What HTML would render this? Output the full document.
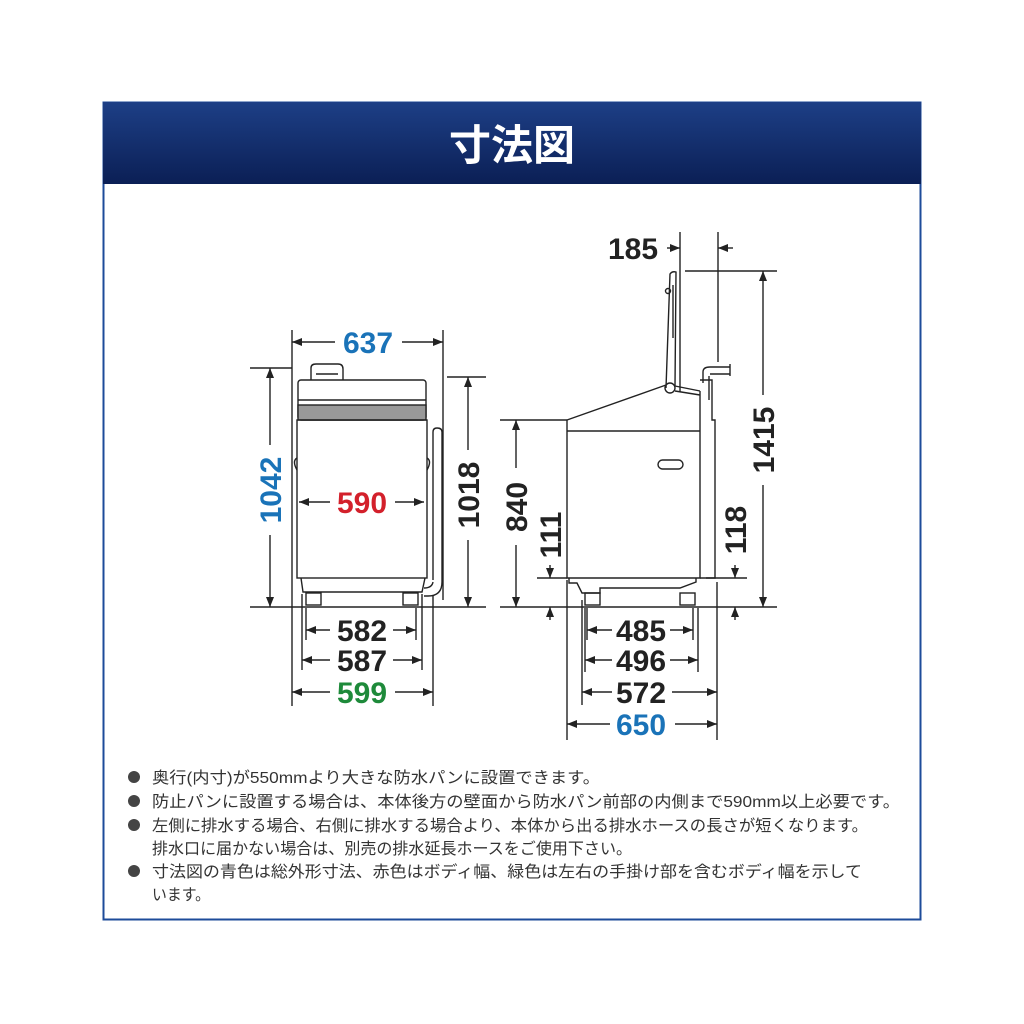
<!DOCTYPE html>
<html><head><meta charset="utf-8"><style>
html,body{margin:0;padding:0;background:#fff;}
svg{display:block;}
</style></head><body>
<svg width="1024" height="1024" viewBox="0 0 1024 1024" xmlns="http://www.w3.org/2000/svg" font-family="'Liberation Sans','Noto Sans CJK JP',sans-serif">
<defs>
<linearGradient id="hg" x1="0" y1="0" x2="0" y2="1">
<stop offset="0" stop-color="#1d3f86"/><stop offset="1" stop-color="#0b1f55"/>
</linearGradient>
<marker id="a" viewBox="0 0 10 8" refX="10" refY="4" markerWidth="10" markerHeight="8" markerUnits="userSpaceOnUse" orient="auto-start-reverse">
<path d="M0,0 L10,4 L0,8 z" fill="#222"/>
</marker>
</defs>
<rect x="103.5" y="102.5" width="817" height="817" fill="#fff" stroke="#1d4b9a" stroke-width="2"/>
<rect x="103" y="102" width="818" height="82" fill="url(#hg)"/>
<text x="512" y="160" text-anchor="middle" fill="#fff" font-size="42" font-weight="bold">寸法図</text>

<g stroke="#222" stroke-width="1.4" fill="none">
<!-- FRONT VIEW -->
<line x1="292" y1="330" x2="292" y2="706"/>
<line x1="443" y1="330" x2="443" y2="600"/>
<line x1="433" y1="596" x2="433" y2="706"/>
<line x1="250" y1="368" x2="292" y2="368"/>
<line x1="447" y1="377" x2="486" y2="377"/>
<line x1="250" y1="607" x2="486" y2="607"/>
<line x1="306" y1="608" x2="306" y2="640"/>
<line x1="416" y1="608" x2="416" y2="640"/>
<line x1="302" y1="594" x2="302" y2="670"/>
<line x1="422" y1="594" x2="422" y2="670"/>
<!-- body -->
<path d="M311,380 V368 Q311,364 316,364 H338 Q343,364 343,369 V380"/>
<line x1="316" y1="374" x2="338" y2="374"/>
<rect x="298" y="380" width="128" height="40" rx="3"/>
<rect x="298" y="405" width="128" height="15" fill="#999"/>
<line x1="298" y1="400" x2="426" y2="400"/>
<rect x="297" y="420" width="130" height="158"/>
<path d="M301,578 L303,592 H422 L425,578"/>
<rect x="306" y="593" width="15" height="12"/>
<rect x="403" y="593" width="15" height="12"/>
<path d="M433,580 V432 Q433,428 437,428 Q442,428 442,432 V582 Q442,596 428,596 H424"/>
<path d="M433,582 Q432,588 424,588"/>
<path d="M297,458 Q292,461 297,470"/>
<path d="M427,458 Q432,461 427,470"/>
</g>
<g stroke="#222" stroke-width="1.4">
<line x1="292" y1="342" x2="335" y2="342" marker-start="url(#a)"/>
<line x1="402" y1="342" x2="443" y2="342" marker-end="url(#a)"/>
<line x1="270" y1="368" x2="270" y2="445" marker-start="url(#a)"/>
<line x1="270" y1="535" x2="270" y2="607" marker-end="url(#a)"/>
<line x1="468" y1="377" x2="468" y2="450" marker-start="url(#a)"/>
<line x1="468" y1="540" x2="468" y2="607" marker-end="url(#a)"/>
<line x1="299" y1="502" x2="330" y2="502" marker-start="url(#a)"/>
<line x1="395" y1="502" x2="424" y2="502" marker-end="url(#a)"/>
<line x1="306" y1="630" x2="330" y2="630" marker-start="url(#a)"/>
<line x1="393" y1="630" x2="416" y2="630" marker-end="url(#a)"/>
<line x1="302" y1="660" x2="330" y2="660" marker-start="url(#a)"/>
<line x1="393" y1="660" x2="422" y2="660" marker-end="url(#a)"/>
<line x1="292" y1="692" x2="330" y2="692" marker-start="url(#a)"/>
<line x1="395" y1="692" x2="433" y2="692" marker-end="url(#a)"/>
</g>
<g font-weight="bold" font-size="30" text-anchor="middle">
<text x="368" y="353" fill="#1a73b8">637</text>
<text x="362" y="513" fill="#d3202b">590</text>
<text x="362" y="641" fill="#222">582</text>
<text x="362" y="671" fill="#222">587</text>
<text x="362" y="703" fill="#1e8a3a">599</text>
<text transform="translate(281,490) rotate(-90)" fill="#1a73b8">1042</text>
<text transform="translate(479,495) rotate(-90)" fill="#222">1018</text>
</g>

<!-- SIDE VIEW -->
<g stroke="#222" stroke-width="1.4" fill="none">
<line x1="680" y1="232" x2="680" y2="392"/>
<line x1="718" y1="232" x2="718" y2="362"/>
<line x1="685" y1="271" x2="777" y2="271"/>
<line x1="500" y1="420" x2="567" y2="420"/>
<line x1="500" y1="607" x2="777" y2="607"/>
<line x1="537" y1="578" x2="567" y2="578"/>
<line x1="700" y1="578" x2="747" y2="578"/>
<line x1="567" y1="580" x2="567" y2="740"/>
<line x1="717" y1="582" x2="717" y2="740"/>
<line x1="582" y1="600" x2="582" y2="705"/>
<line x1="585" y1="608" x2="585" y2="672"/>
<line x1="587" y1="608" x2="587" y2="640"/>
<line x1="693" y1="608" x2="693" y2="640"/>
<line x1="698" y1="608" x2="698" y2="672"/>
<!-- lid -->
<path d="M666,388 L670,274 Q672,271 676,272 L675,386"/>
<line x1="673" y1="285" x2="673" y2="338"/>
<circle cx="668" cy="291" r="2.5"/>
<circle cx="670" cy="388" r="5"/>
<!-- body -->
<path d="M567,420 L666,385 M675,386 L700,391"/>
<path d="M675,391 L700,395"/>
<path d="M567,420 V578 H700 V391"/>
<line x1="567" y1="431" x2="700" y2="431"/>
<path d="M700,380 H712 V420 H715 V578 H706"/>
<path d="M703,383 V372 Q703,367 710,367 H730 M710,374 H730 M730,364 V376"/>
<line x1="709" y1="376" x2="709" y2="400"/>
<rect x="658" y="460" width="25" height="9" rx="4.5"/>
<path d="M569,578 V583 H577 L582,593 H600 V588 H680 L696,582 V578"/>
<rect x="585" y="593" width="15" height="12"/>
<rect x="680" y="593" width="15" height="12"/>
</g>
<g stroke="#222" stroke-width="1.4">
<line x1="667" y1="248" x2="680" y2="248" marker-end="url(#a)"/>
<line x1="733" y1="248" x2="718" y2="248" marker-end="url(#a)"/>
<line x1="763" y1="271" x2="763" y2="395" marker-start="url(#a)"/>
<line x1="763" y1="485" x2="763" y2="607" marker-end="url(#a)"/>
<line x1="516" y1="420" x2="516" y2="468" marker-start="url(#a)"/>
<line x1="516" y1="545" x2="516" y2="607" marker-end="url(#a)"/>
<line x1="550" y1="565" x2="550" y2="578" marker-end="url(#a)"/>
<line x1="550" y1="620" x2="550" y2="607" marker-end="url(#a)"/>
<line x1="735" y1="565" x2="735" y2="578" marker-end="url(#a)"/>
<line x1="735" y1="620" x2="735" y2="607" marker-end="url(#a)"/>
<line x1="587" y1="630" x2="612" y2="630" marker-start="url(#a)"/>
<line x1="670" y1="630" x2="693" y2="630" marker-end="url(#a)"/>
<line x1="585" y1="660" x2="612" y2="660" marker-start="url(#a)"/>
<line x1="670" y1="660" x2="698" y2="660" marker-end="url(#a)"/>
<line x1="582" y1="692" x2="612" y2="692" marker-start="url(#a)"/>
<line x1="672" y1="692" x2="717" y2="692" marker-end="url(#a)"/>
<line x1="567" y1="724" x2="610" y2="724" marker-start="url(#a)"/>
<line x1="675" y1="724" x2="717" y2="724" marker-end="url(#a)"/>
</g>
<g font-weight="bold" font-size="30" text-anchor="middle" fill="#222">
<text x="633" y="259">185</text>
<text x="641" y="641">485</text>
<text x="641" y="671">496</text>
<text x="641" y="703">572</text>
<text x="641" y="735" fill="#1a73b8">650</text>
<text transform="translate(527,507) rotate(-90)">840</text>
<text transform="translate(561,535) rotate(-90)">111</text>
<text transform="translate(746,530) rotate(-90)">118</text>
<text transform="translate(774,440) rotate(-90)">1415</text>
</g>

<!-- notes -->
<g font-size="16" fill="#333">
<circle cx="134" cy="777" r="6" fill="#444"/>
<circle cx="134" cy="801" r="6" fill="#444"/>
<circle cx="134" cy="825" r="6" fill="#444"/>
<circle cx="134" cy="871" r="6" fill="#444"/>
<text x="152" y="783" textLength="448" lengthAdjust="spacingAndGlyphs">奥行(内寸)が550mmより大きな防水パンに設置できます。</text>
<text x="152" y="807" textLength="748" lengthAdjust="spacingAndGlyphs">防止パンに設置する場合は、本体後方の壁面から防水パン前部の内側まで590mm以上必要です。</text>
<text x="152" y="831" textLength="716" lengthAdjust="spacingAndGlyphs">左側に排水する場合、右側に排水する場合より、本体から出る排水ホースの長さが短くなります。</text>
<text x="152" y="854" textLength="480" lengthAdjust="spacingAndGlyphs">排水口に届かない場合は、別売の排水延長ホースをご使用下さい。</text>
<text x="152" y="877" textLength="710" lengthAdjust="spacingAndGlyphs">寸法図の青色は総外形寸法、赤色はボディ幅、緑色は左右の手掛け部を含むボディ幅を示して</text>
<text x="152" y="900" textLength="58" lengthAdjust="spacingAndGlyphs">います。</text>
</g>
</svg>
</body></html>
